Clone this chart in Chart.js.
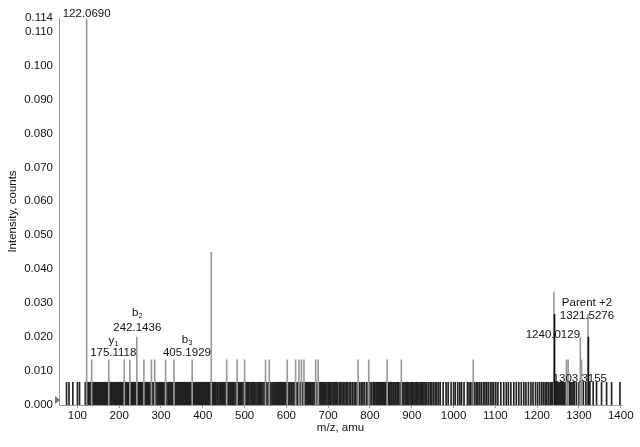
<!DOCTYPE html>
<html><head><meta charset="utf-8">
<script src="https://cdn.jsdelivr.net/npm/chart.js@4.4.1/dist/chart.umd.min.js"></script>
<style>html,body{margin:0;padding:0;background:#fff}#wrap{width:640px;height:447px}</style>
</head><body><div id="wrap"><canvas id="c" width="640" height="447"></canvas></div>
<script>
// ---- data ----
const xTicks = [100,200,300,400,500,600,700,800,900,1000,1100,1200,1300,1400];
const yTicks = [0,0.01,0.02,0.03,0.04,0.05,0.06,0.07,0.08,0.09,0.10,0.11,0.114];

// low-level noise forest (all at the lowest count level)
const noiseLevel = 0.0067;
const noiseMz = [74.1,80.0,89.1,100.1,105.1,
118.9,120.1,123.1,124.9,127.1,129.0,130.1,132.1,134.0,136.1,137.9,140.1,141.1,143.0,145.1,147.1,149.0,151.1,152.1,154.1,156.1,158.0,159.1,161.1,163.1,165.0,167.1,169.1,171.1,173.0,175.1,177.1,179.1,181.0,183.1,185.1,186.0,188.1,190.1,192.0,194.1,196.1,198.1,199.1,201.1,203.0,205.1,207.1,209.1,211.1,213.0,215.1,217.1,219.1,221.0,223.1,225.1,227.1,228.1,230.1,232.0,234.1,
236.1,238.1,240.1,244.1,246.0,249.1,251.1,253.1,256.1,258.1,260.1,263.1,265.0,267.1,270.1,272.1,274.1,276.1,279.1,281.1,283.0,286.1,288.1,291.1,293.1,296.1,298.1,
301.1,303.1,305.1,307.0,310.1,312.1,314.1,317.1,319.1,321.1,323.1,326.1,328.1,331.1,333.1,335.1,337.1,340.1,342.1,345.1,347.1,349.1,352.1,354.1,356.1,358.1,361.1,363.1,365.1,368.1,370.1,372.1,375.1,377.1,379.1,381.1,383.1,385.1,387.1,389.1,391.1,393.1,395.1,397.1,399.1,401.1,403.1,405.1,407.1,409.1,411.1,413.1,415.1,417.1,419.1,421.1,
423.1,426.1,428.1,431.1,434.1,436.1,439.1,442.1,444.1,447.1,450.1,452.1,455.1,458.1,461.1,463.1,466.1,469.1,471.1,474.1,477.1,480.1,482.1,485.1,488.1,491.1,493.1,496.1,499.1,502.1,505.1,507.1,510.1,513.1,516.1,519.1,521.1,524.1,527.1,530.1,533.1,536.1,538.1,541.1,544.1,547.1,550.1,553.1,556.1,559.1,
561.1,563.1,566.1,568.1,571.1,573.1,576.1,578.1,581.1,583.1,586.1,588.1,591.1,593.1,596.1,598.1,601.1,603.1,606.1,608.1,611.1,613.1,616.1,618.1,621.1,623.1,626.1,628.1,631.1,633.1,636.1,638.1,641.1,643.1,646.1,648.1,651.1,653.1,656.1,658.1,661.1,663.1,666.1,668.1,671.1,673.1,676.1,678.1,681.1,684.1,686.1,689.1,692.1,694.1,697.1,700.1,
703.1,706.1,709.1,712.1,714.1,717.1,720.1,723.1,727.1,730.1,733.1,736.1,740.1,743.1,746.1,750.1,754.1,758.1,762.1,766.1,770.1,775.1,779.1,783.1,787.1,792.1,796.1,800.1,804.1,808.1,
810.1,812.1,815.1,817.1,820.1,822.1,825.1,827.1,830.1,832.1,835.1,837.1,840.1,842.1,845.1,847.1,850.1,852.1,855.1,857.1,860.1,862.1,865.1,868.1,
872.1,875.1,878.1,881.1,884.1,887.1,890.1,893.1,896.1,899.1,902.1,905.1,908.1,911.1,914.1,917.1,920.1,923.1,926.1,929.1,932.1,936.1,940.1,944.1,948.1,952.1,956.1,960.1,964.1,968.1,
975.1,982.1,987.1,994.1,1000.1,1004.1,1010.1,1015.1,1019.1,1025.1,
1033.1,1037.1,1041.1,1045.1,1050.1,1054.1,1058.1,1062.1,1066.1,1071.1,1075.1,1079.1,1083.1,1088.1,1092.1,1096.1,1101.1,1106.1,
1113.1,1120.1,1126.1,1131.1,1137.1,1144.1,1150.1,1156.1,1162.1,1168.1,1173.1,1179.1,1185.1,1190.1,1196.1,1201.1,1206.1,1211.1,1215.1,1219.1,1223.1,1227.1,1231.1,1234.1,
1237.1,1239.1,1242.1,1244.1,1246.1,1248.1,1250.1,1252.1,1254.1,1256.1,1258.1,1260.1,1262.1,1264.1,1266.1,1268.1,1271.1,1273.1,1275.1,1277.1,1280.1,1283.1,1286.1,1289.1,
1294.1,1300.1,1305.1,1310.1,1316.1,1320.1,1326.1,1334.1,1342.1,1354.1,1366.1,1378.1,1398.1];

// second count level
const mediumLevel = 0.0133;
const mediumMz = [134.1,175.1,212.1,225.5,259.1,277.1,285.1,311.1,331.1,374.6,457.1,482.1,500.1,550.1,559.1,602.1,622.1,630.1,636.1,642.1,670.1,676.1,771.6,797.1,841.1,875.1,1047.1,1270.1,1274.1,1306.1];

// major peaks
const peakMz        = [122.069, 242.1436, 420.2, 1240.0129, 1303.3155, 1321.5276];
const peakIntensity = [0.1135,  0.0200,   0.0450, 0.0333,   0.0200,    0.0267];
// adjacent shoulder peaks (drawn darker in the reference)
const shoulderMz        = [1241.6, 1322.6];
const shoulderIntensity = [0.0267, 0.0200];

// annotations
const annotMz    = [122.069, 175.1118, 242.1436, 405.1929, 1240.0129, 1303.3155, 1321.5276];
const annotLevel = [0.1135,  0.0133,   0.0200,   0.0133,   0.0333,    0.0200,    0.0267];
const annotIon   = ["", "y|1", "b|2", "b|3", "", "", "Parent +2"];
const annotText  = ["122.0690","175.1118","242.1436","405.1929","1240.0129","1303.3155","1321.5276"];

// ---- layout/style (not data) ----
const FONT = "Liberation Sans, Arial, sans-serif";
const annotOffset = [ // dx, dy of value text, dy of ion text (pixels relative to peak top)
  [0,-6,0],[4.5,-7,-19],[0.5,-9,-24],[-18,-7,-20],[-1,43,0],[-0.5,42,0],[-1,1.5,-12]
];

const annotPlugin = {
  id: 'annot',
  afterDatasetsDraw(chart) {
    const {ctx, scales:{x, y}, chartArea} = chart;
    ctx.save();
    ctx.fillStyle = '#777';
    ctx.beginPath();
    ctx.moveTo(chartArea.left - 4, chartArea.bottom - 9);
    ctx.lineTo(chartArea.left + 1, chartArea.bottom - 5);
    ctx.lineTo(chartArea.left - 4, chartArea.bottom - 1);
    ctx.closePath(); ctx.fill();
    ctx.fillStyle = '#111';
    ctx.textAlign = 'center';
    ctx.textBaseline = 'middle';
    for (let i = 0; i < annotMz.length; i++) {
      const px = x.getPixelForValue(annotMz[i]) + annotOffset[i][0];
      const top = y.getPixelForValue(annotLevel[i]);
      ctx.font = '11.5px ' + FONT;
      ctx.fillText(annotText[i], px, top + annotOffset[i][1]);
      if (annotIon[i]) {
        const iy = top + annotOffset[i][2];
        if (annotIon[i].includes('|')) {
          const [m, s] = annotIon[i].split('|');
          ctx.font = '11.5px ' + FONT;
          const w = ctx.measureText(m).width;
          ctx.textAlign = 'left';
          ctx.fillText(m, px - (w + 4) / 2, iy);
          ctx.font = '7.5px ' + FONT;
          ctx.fillText(s, px - (w + 4) / 2 + w, iy + 3);
          ctx.textAlign = 'center';
        } else {
          ctx.fillText(annotIon[i], px, iy);
        }
      }
    }
    ctx.restore();
  }
};

const mk = (arr, lvl) => arr.map(m => ({x: m, y: lvl}));
const pair = (xs, ys) => xs.map((m, i) => ({x: m, y: ys[i]}));

new Chart(document.getElementById('c'), {
  type: 'bar',
  data: {
    datasets: [
      {data: pair(shoulderMz, shoulderIntensity), backgroundColor: '#111', barThickness: 1, grouped: false, order: 0},
      {data: pair(peakMz, peakIntensity), backgroundColor: '#999', barThickness: 1, grouped: false, order: 1},
      {data: mk(mediumMz, mediumLevel), backgroundColor: '#999', barThickness: 1, grouped: false, order: 2},
      {data: mk(noiseMz, noiseLevel), backgroundColor: '#222', barThickness: 1, grouped: false, order: 3}
    ]
  },
  options: {
    responsive: false,
    animation: false,
    devicePixelRatio: 1,
    layout: {padding: {left: 0, right: 18, top: 18, bottom: 0}},
    plugins: {legend: {display: false}, tooltip: {enabled: false}},
    scales: {
      x: {
        type: 'linear', min: 56, max: 1403, offset: false,
        afterBuildTicks: s => { s.ticks = xTicks.map(v => ({value: v})); },
        afterFit: s => { s.height = 42; },
        ticks: {color: '#111', font: {family: FONT, size: 11.5}, padding: 1, maxRotation: 0, autoSkip: false, callback: v => String(v)},
        grid: {display: true, drawOnChartArea: false, drawTicks: true, tickLength: 3, color: '#999', offset: false},
        border: {display: true, color: '#999'},
        title: {display: true, text: 'm/z, amu', color: '#111', font: {family: FONT, size: 11.5}, padding: {top: 0, bottom: 12}}
      },
      y: {
        type: 'linear', min: 0, max: 0.114,
        afterBuildTicks: s => { s.ticks = yTicks.map(v => ({value: v})); },
        afterFit: s => { s.width = 59; },
        ticks: {color: '#111', font: {family: FONT, size: 11.5}, padding: 6, callback: v => v.toFixed(3)},
        grid: {display: false, drawTicks: false},
        border: {display: true, color: '#999'},
        title: {display: true, text: 'Intensity, counts', color: '#111', font: {family: FONT, size: 11.5}, padding: {top: 6, bottom: 0}}
      }
    }
  },
  plugins: [annotPlugin]
});
</script></body></html>
